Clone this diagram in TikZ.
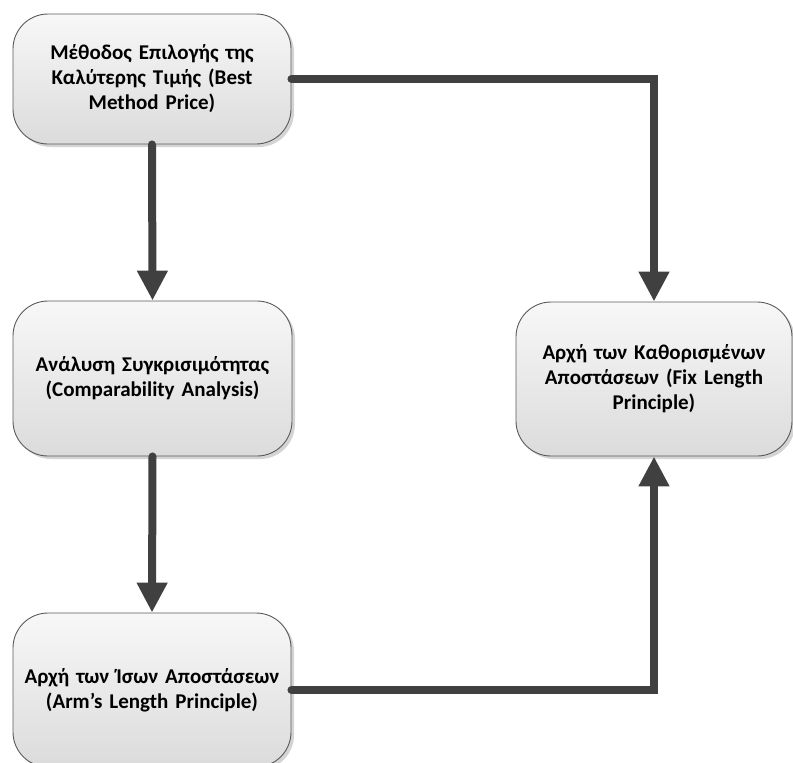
\documentclass[tikz,border=0pt]{standalone}
\usepackage{fontspec}
\setmainfont{Carlito}
\usetikzlibrary{arrows.meta,shadows}
\definecolor{edgegray}{HTML}{5A5A5A}
\definecolor{linkgray}{HTML}{404040}
\definecolor{shadowgray}{HTML}{D4D4D4}
\tikzset{
  stepbox/.style={rectangle, rounded corners=35pt, draw=edgegray, line width=0.9pt,
    top color=white!97!black, bottom color=white!86!black,
    drop shadow={shadow xshift=3pt, shadow yshift=-3pt, fill=shadowgray, opacity=1},
    text width=272pt, align=center, inner sep=0pt,
    font=\bfseries\fontsize{21}{25}\selectfont},
  link/.style={draw=linkgray, line width=8pt, line cap=round, line join=miter,
    -{Triangle[length=30pt,width=29pt]}}
}
\begin{document}
\begin{tikzpicture}[x=1pt,y=-1pt]
\useasboundingbox (0,0) rectangle (793,763);
% process boxes
\node[stepbox, minimum width=278pt, minimum height=130pt] (best) at (152,79)
  {Μέθοδος Επιλογής της\\Καλύτερης Τιμής (Best\\Method Price)};
\node[stepbox, minimum width=279pt, minimum height=155pt] (comp) at (152.5,378.5)
  {Ανάλυση Συγκρισιμότητας\\(Comparability Analysis)};
\node[stepbox, minimum width=278pt, minimum height=154pt] (arm) at (152,690)
  {Αρχή των Ίσων Αποστάσεων\\(Arm’s Length Principle)};
\node[stepbox, minimum width=276pt, minimum height=154pt] (fix) at (654,379)
  {Αρχή των Καθορισμένων\\Αποστάσεων (Fix Length\\Principle)};
% connectors
\draw[link] (best.south) -- (comp.north);
\draw[link] (comp.south) -- (arm.north);
\draw[link] (best.east) -| (fix.north);
\draw[link] (arm.east) -| (fix.south);
\end{tikzpicture}
\end{document}
